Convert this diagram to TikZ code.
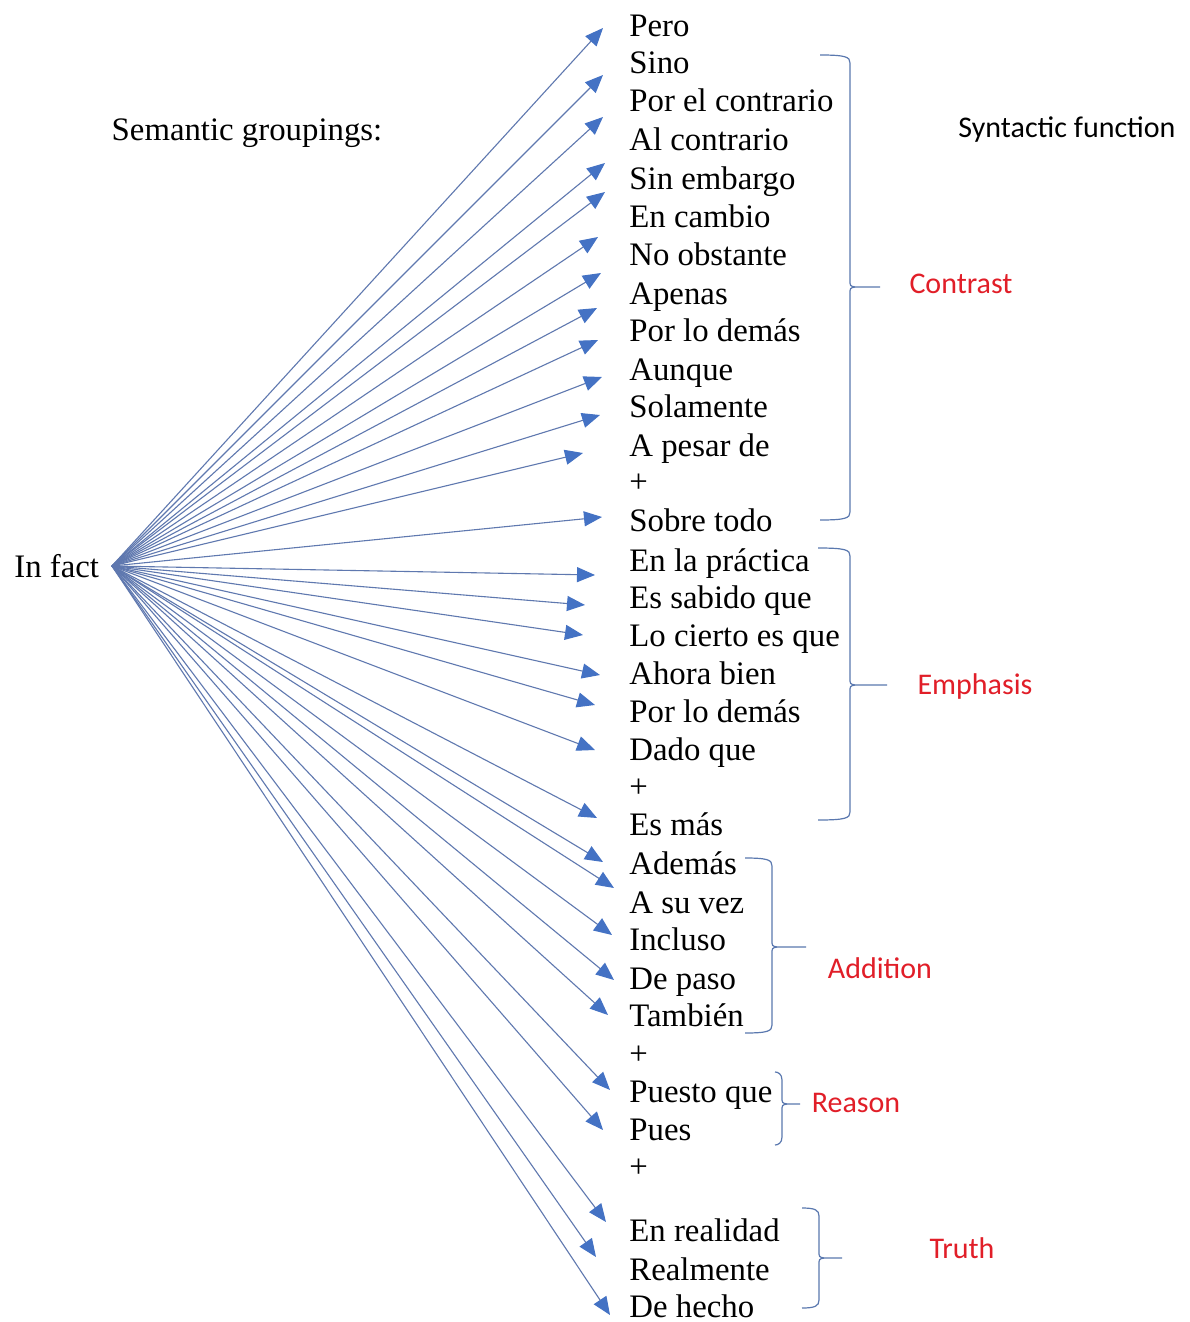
\documentclass[tikz,border=0pt]{standalone}
\usepackage{fontspec}
\setmainfont{Liberation Serif}
\newfontfamily\labelfont{Carlito}
\usetikzlibrary{arrows.meta}

\definecolor{linkblue}{RGB}{68,114,196}
\definecolor{linegray}{RGB}{95,120,175}
\definecolor{bracegray}{RGB}{90,120,175}
\definecolor{funcred}{RGB}{225,30,40}

% right brace with a tail pointing to the group label
\newcommand\grpbrace[6]{%
  % #1 arm start x, #2 spine x, #3 top y, #4 middle y, #5 bottom y, #6 tail x
  \draw[brace]
    (#1,#3) .. controls ({#2-4},#3) and (#2,{#3+2}) .. (#2,{#3+8})
    -- (#2,{#4-7}) .. controls (#2,{#4-1}) .. ({#2+5},#4) -- (#6,#4);
  \draw[brace]
    ({#2+5},#4) .. controls (#2,{#4+1}) .. (#2,{#4+7})
    -- (#2,{#5-8}) .. controls (#2,{#5-2}) and ({#2-4},#5) .. (#1,#5);
}

\begin{document}
\begin{tikzpicture}[x=0.5pt,y=-0.5pt,
  word/.style={anchor=base west,inner sep=0pt,font=\fontsize{16.4}{19}\selectfont},
  head/.style={inner sep=0pt,font=\fontsize{16.4}{19}\selectfont},
  func/.style={inner sep=0pt,font=\labelfont\fontsize{15}{18}\selectfont,text=funcred},
  link/.style={draw=linegray,line width=0.55pt,
    -{Triangle[length=9pt,width=7.5pt,color=linkblue,fill=linkblue]}},
  brace/.style={draw=bracegray,line width=0.6pt}]

\fill[white] (0,0) rectangle (1189,1322);

% headings
\node[head] (sem) at (247,133) {Semantic groupings:};
\node[inner sep=0pt,font=\labelfont\fontsize{15}{18}\selectfont] (syn) at (1067,130) {Syntactic function};

% source
\node[head,anchor=west] (infact) at (14,566) {In fact};
\coordinate (hub) at (112,566);

% list of connectives
\foreach \t/\y [count=\i] in {
  Pero/28, Sino/65, Por el contrario/103, Al contrario/141, Sin embargo/180,
  En cambio/218, No obstante/256, Apenas/295, Por lo demás/332, Aunque/371,
  Solamente/408, A pesar de/447, +/483, Sobre todo/522,
  En la práctica/562, Es sabido que/599, Lo cierto es que/637, Ahora bien/675,
  Por lo demás/713, Dado que/751, +/788, Es más/826,
  Además/865, A su vez/904, Incluso/941, De paso/980, También/1017, +/1055,
  Puesto que/1093, Pues/1131, +/1168,
  En realidad/1232, Realmente/1271, De hecho/1308}
  \node[word] (w\i) at (629,{\y+9}) {\t};

% arrows from the hub
\foreach \x/\y [count=\i] in {
  603/28, 603/75, 603/117, 605/163, 605/192, 598/237, 601/273, 597/308,
  598/340, 602/377, 600/415, 583/453, 602/517,
  595/575, 585/605, 583/635, 600/675, 595/705, 595/750, 597/818,
  603/862, 614/888, 612/935, 614/980, 608/1015,
  610/1090, 603/1130,
  606/1222, 596/1257, 610/1315}
{
  \coordinate (t\i) at (\x,\y);
  \draw[link] (hub) -- (t\i);
}

% group braces
\grpbrace{820}{850}{55}{287}{520}{880}
\grpbrace{818}{850}{548}{685}{820}{887}
\grpbrace{745}{772}{858}{947}{1033}{806}
\grpbrace{775}{782}{1072}{1104}{1145}{800}
\grpbrace{802}{819}{1208}{1258}{1308}{842}

% group labels
\node[func] (contrast) at (961,284) {Contrast};
\node[func] (emphasis) at (975,686) {Emphasis};
\node[func] (addition) at (880,968) {Addition};
\node[func] (reason) at (856,1103) {Reason};
\node[func] (truth) at (962,1248) {Truth};

\end{tikzpicture}
\end{document}
